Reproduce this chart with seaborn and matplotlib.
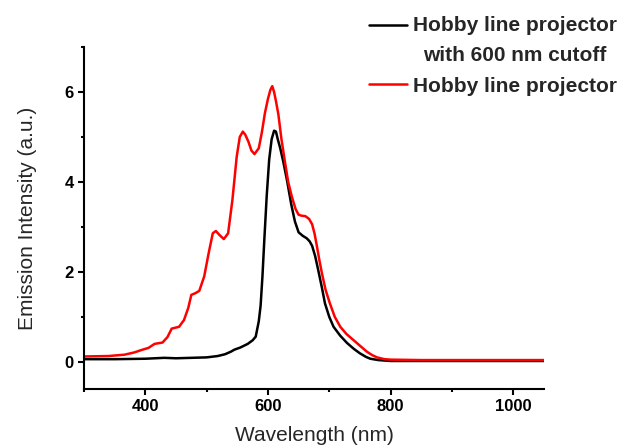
import numpy as np
import pandas as pd
import matplotlib
matplotlib.use("Agg")
import matplotlib.pyplot as plt
from matplotlib.ticker import MultipleLocator
from matplotlib.legend_handler import HandlerLine2D
from matplotlib.lines import Line2D
import seaborn as sns

# ---- data ----
wl_cutoff = [300, 350, 400, 431, 450, 500, 518, 530, 540, 545, 555, 567, 575, 580,
             585, 588, 591, 594, 598, 602, 606, 610, 613, 616, 620, 625, 631, 638,
             644, 650, 657, 663, 668, 672, 677, 682, 688, 693, 700, 707, 718, 729,
             740, 750, 760, 767, 780, 800, 850, 900, 950, 1000, 1050]
int_cutoff = [0.06, 0.06, 0.07, 0.09, 0.08, 0.10, 0.13, 0.17, 0.23, 0.27, 0.32, 0.40,
              0.48, 0.56, 0.90, 1.25, 1.90, 2.70, 3.70, 4.50, 4.95, 5.14, 5.12, 4.95,
              4.75, 4.45, 4.04, 3.50, 3.12, 2.88, 2.80, 2.75, 2.68, 2.58, 2.35, 2.04,
              1.65, 1.30, 1.00, 0.78, 0.58, 0.42, 0.29, 0.19, 0.11, 0.07, 0.04, 0.02,
              0.02, 0.02, 0.02, 0.02, 0.02]

wl_full = [300, 340, 366, 382, 395, 405, 415, 428, 436, 443, 455, 463, 470, 475, 482,
           488, 496, 503, 510, 515, 521, 528, 535, 542, 549, 554, 559, 563, 568, 573,
           578, 585, 590, 595, 600, 604, 607, 610, 613, 617, 622, 628, 633, 639, 645,
           650, 655, 661, 667, 672, 676, 680, 684, 688, 694, 701, 709, 718, 728, 739,
           750, 761, 770, 778, 790, 800, 850, 900, 950, 1000, 1050]
int_full = [0.12, 0.13, 0.16, 0.21, 0.27, 0.31, 0.40, 0.43, 0.55, 0.74, 0.78, 0.93,
            1.20, 1.49, 1.53, 1.58, 1.90, 2.40, 2.86, 2.91, 2.82, 2.73, 2.86, 3.60,
            4.56, 5.00, 5.12, 5.05, 4.90, 4.70, 4.62, 4.75, 5.10, 5.53, 5.85, 6.05,
            6.13, 6.00, 5.80, 5.50, 4.95, 4.42, 4.00, 3.67, 3.40, 3.27, 3.25, 3.24,
            3.18, 3.06, 2.85, 2.56, 2.25, 1.97, 1.60, 1.30, 1.00, 0.78, 0.62, 0.49,
            0.36, 0.23, 0.15, 0.10, 0.06, 0.05, 0.04, 0.04, 0.04, 0.04, 0.04]

series_names = ["Hobby line projector\nwith 600 nm cutoff", "Hobby line projector"]
series_colors = ["#000000", "#ff0000"]

df = pd.concat([
    pd.DataFrame({"wl": wl_cutoff, "I": int_cutoff, "series": series_names[0]}),
    pd.DataFrame({"wl": wl_full, "I": int_full, "series": series_names[1]}),
], ignore_index=True)

# ---- style ----
sns.set_theme(style="ticks")
plt.rcParams["font.family"] = ["Liberation Sans", "DejaVu Sans"]

fig = plt.figure(figsize=(6.18, 4.48), dpi=100)
ax = fig.add_axes([0.136, 0.132, 0.744, 0.763])

sns.lineplot(data=df, x="wl", y="I", hue="series", hue_order=series_names,
             palette=dict(zip(series_names, series_colors)), sort=False,
             estimator=None, linewidth=1.8, ax=ax, legend=False)

ax.set_xlim(300, 1050)
ax.set_ylim(-0.6, 7)
ax.xaxis.set_major_locator(MultipleLocator(200))
ax.xaxis.set_minor_locator(MultipleLocator(100))
ax.yaxis.set_major_locator(MultipleLocator(2))
ax.yaxis.set_minor_locator(MultipleLocator(1))
ax.set_xticks([400, 600, 800, 1000])

for s in ["top", "right"]:
    ax.spines[s].set_visible(False)
for s in ["left", "bottom"]:
    ax.spines[s].set_linewidth(1.5)
    ax.spines[s].set_color("black")

ax.tick_params(which="major", direction="out", length=4.5, width=1.5,
               labelsize=12, pad=3, colors="black")
ax.tick_params(which="minor", direction="out", length=2.5, width=1.5, colors="black")
for lab in ax.get_xticklabels() + ax.get_yticklabels():
    lab.set_fontweight("bold")

ax.set_xlabel("Wavelength (nm)", fontsize=15, labelpad=8.5)
ax.set_ylabel("Emission Intensity (a.u.)", fontsize=15, labelpad=20)

# ---- legend ----
LINESP = 1.73
SHIFT = 11.2  # points, lift handle of the two-line entry to its first line


class FirstLineHandler(HandlerLine2D):
    def create_artists(self, legend, orig_handle, xdescent, ydescent, width,
                       height, fontsize, trans):
        arts = super().create_artists(legend, orig_handle, xdescent, ydescent,
                                      width, height, fontsize, trans)
        for a in arts:
            a.set_ydata(np.asarray(a.get_ydata()) + SHIFT)
        return arts


handles = [Line2D([], [], color=c, lw=1.8) for c in series_colors]
leg = fig.legend(handles, series_names, loc="upper right",
                 bbox_to_anchor=(0.998, 0.964), frameon=False,
                 prop={"weight": "bold", "size": 15},
                 handlelength=1.8, handletextpad=0.3, borderpad=0,
                 borderaxespad=0, labelspacing=0.55,
                 handler_map={handles[0]: FirstLineHandler()})
for t in leg.get_texts():
    t.set_linespacing(LINESP)
    t.set_multialignment("center")

fig.savefig("out.png", dpi=100)
